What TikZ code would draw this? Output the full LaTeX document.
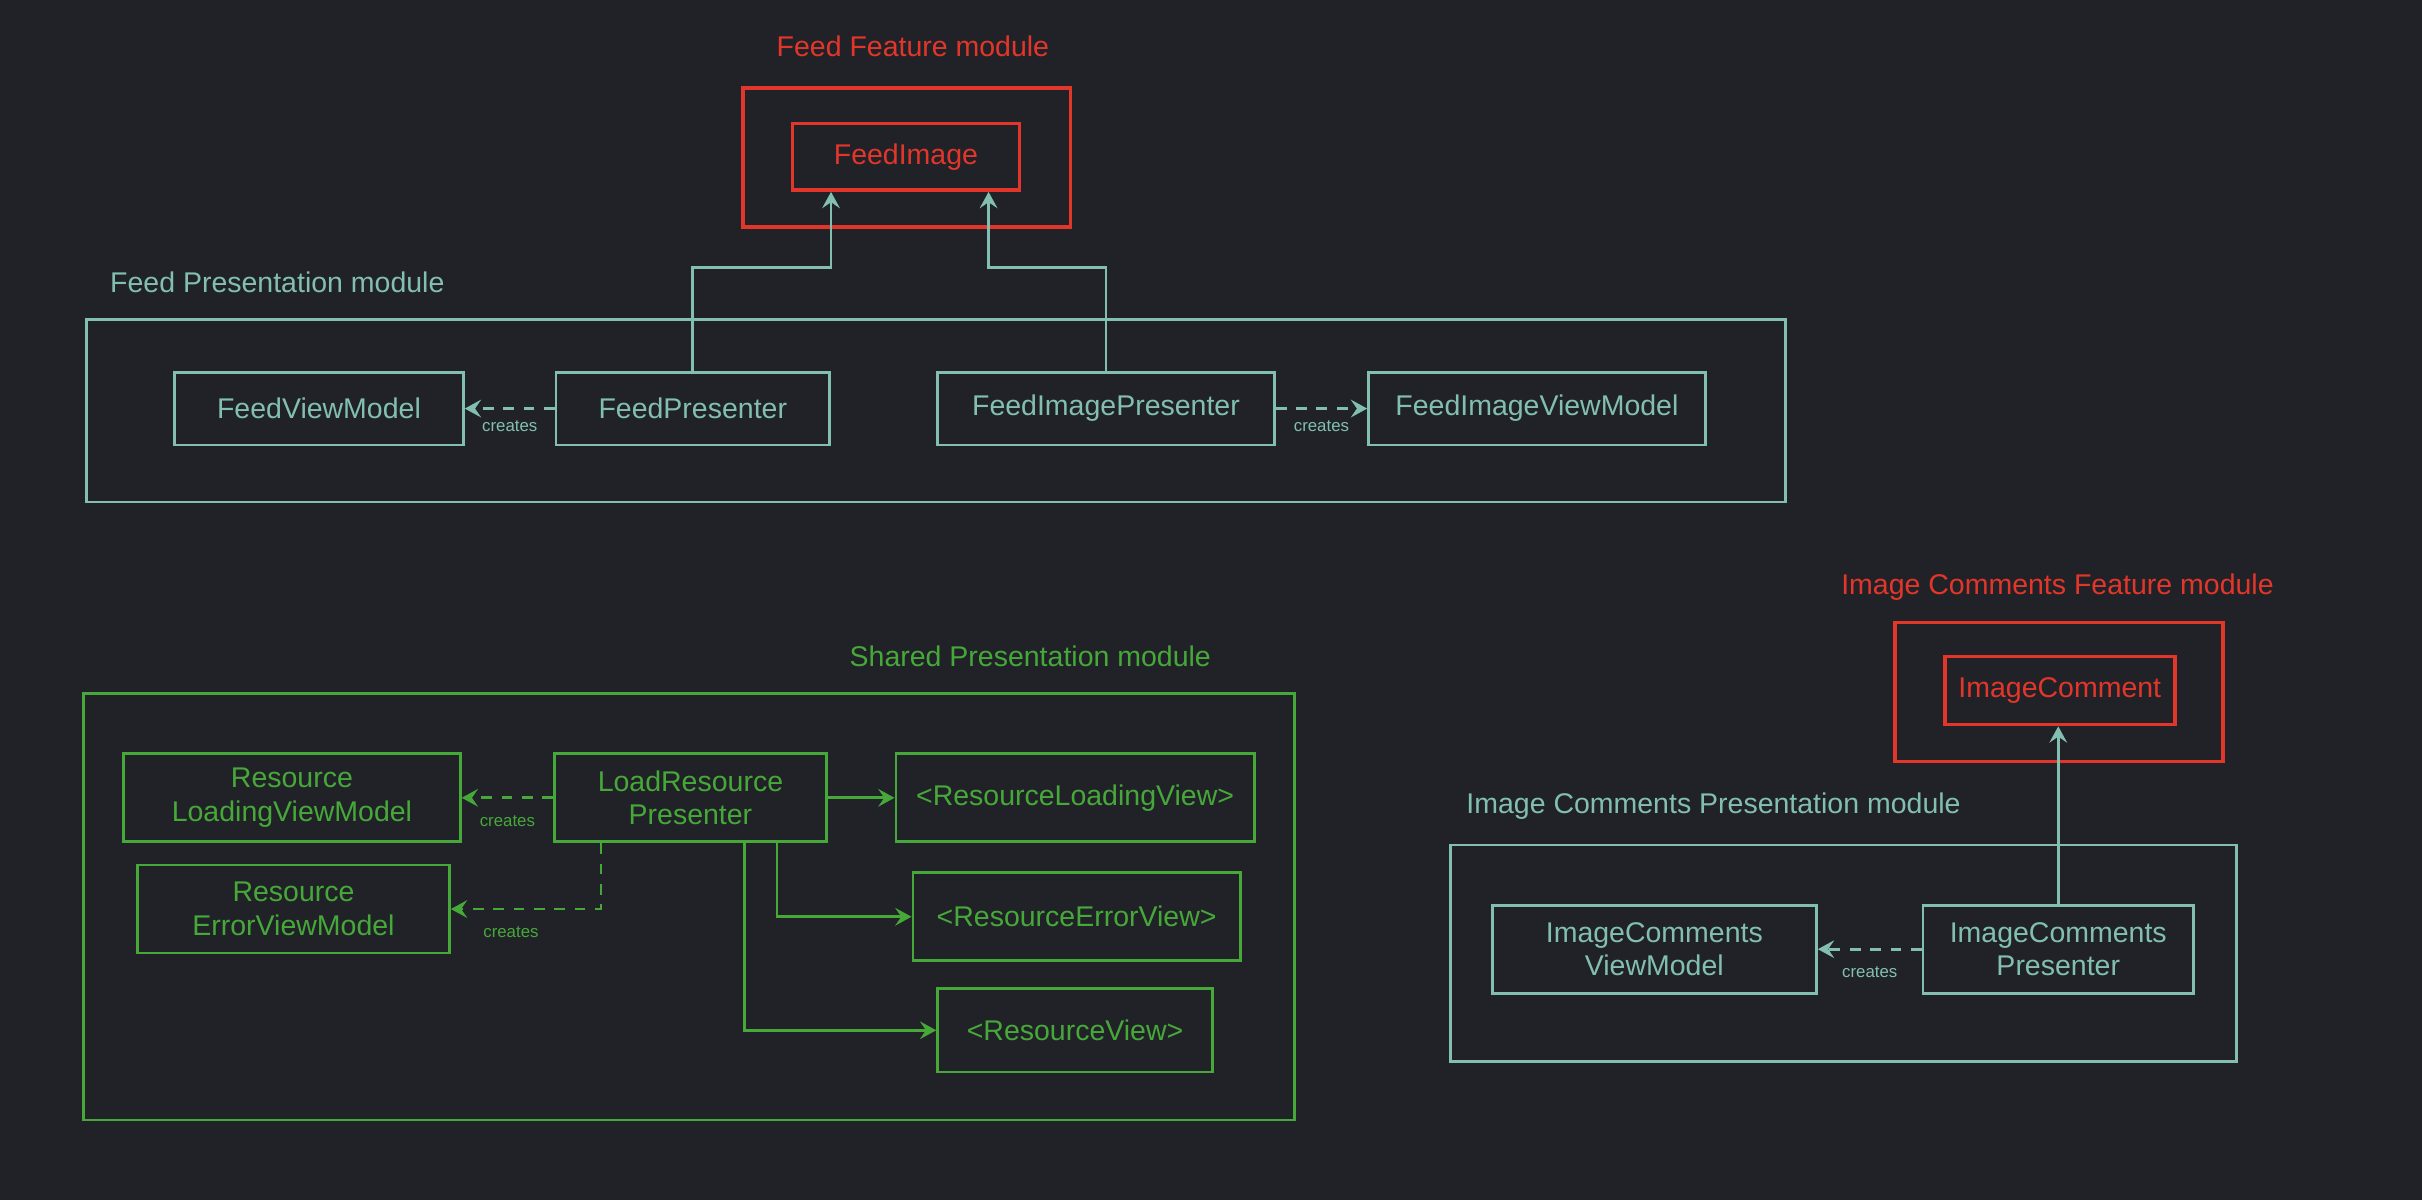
\documentclass[tikz,border=0pt]{standalone}
\usepackage{fontspec}
\setmainfont{Liberation Sans}
\usetikzlibrary{arrows.meta,calc}
\definecolor{bgc}{HTML}{202227}
\definecolor{tealc}{HTML}{82BFB0}
\definecolor{redc}{HTML}{E3362B}
\definecolor{greenc}{HTML}{47A83A}
\tikzset{
  rect/.style n args={4}{minimum width={(#3-#1)*0.02cm}, minimum height={(#4-#2)*0.02cm}, at={({(#1+#3)/2},{(#2+#4)/2})}},
  box/.style={draw, line width=1pt, inner sep=0pt, align=center, font=\fontsize{10.5}{12.5}\selectfont},
  tealbox/.style={box, draw=tealc, text=tealc},
  redbox/.style={box, draw=redc, text=redc},
  greenbox/.style={box, draw=greenc, text=greenc},
  modbox/.style={draw, line width=1pt, inner sep=0pt},
  title/.style={font=\fontsize{10.5}{12.5}\selectfont, inner sep=0pt},
  tip/.style={-{Stealth[length=6pt,width=6.5pt,inset=2.2pt]}},
  conn/.style={line width=1pt, tip},
  dconn/.style={conn, dash pattern=on 4pt off 3.5pt},
  creates/.style={font=\fontsize{6.2}{7}\selectfont, inner sep=1pt}
}
\begin{document}
\begin{tikzpicture}[x=0.02cm,y=-0.02cm]
\fill[bgc] (0,0) rectangle (1568,777);
\useasboundingbox (0,0) rectangle (1568,777);

% ---------- Feed Feature module ----------
\node[title, text=redc] (fftitle) at (591,30) {Feed Feature module};
\node[modbox, draw=redc, line width=1.4pt, rect={481}{57}{693}{147}] (ffmod) {};
\node[redbox, line width=1.4pt, rect={513}{80}{660}{123}] (fi) {FeedImage};

% ---------- Feed Presentation module ----------
\node[title, text=tealc, anchor=west] (fptitle) at (71,183) {Feed Presentation module};
\node[modbox, draw=tealc, rect={56}{207}{1156}{325}] (fpmod) {};
\node[tealbox, rect={113}{241}{300}{288}] (fvm) {FeedViewModel};
\node[tealbox, rect={360}{241}{537}{288}] (fp) {FeedPresenter};
\node[tealbox, rect={607}{241}{825}{288}] (fip) {FeedImagePresenter};
\node[tealbox, rect={886}{241}{1104}{288}] (fivm) {FeedImageViewModel};

\draw[conn, draw=tealc] (fp.north) -- ++(0,-67) -| ($(fi.south)+(-48.5,0)$);
\draw[conn, draw=tealc] (fip.north) -- ++(0,-67) -| ($(fi.south)+(53.5,0)$);
\draw[dconn, draw=tealc] (fp.west) -- (fvm.east) node[midway, below=3pt, creates, text=tealc] (c1) {creates};
\draw[dconn, draw=tealc] (fip.east) -- (fivm.west) node[midway, below=3pt, creates, text=tealc] (c2) {creates};

% ---------- Shared Presentation module ----------
\node[title, text=greenc] (sptitle) at (667,425) {Shared Presentation module};
\node[modbox, draw=greenc, rect={54}{449}{838}{725}] (spmod) {};
\node[greenbox, rect={80}{488}{298}{545}] (rlvm) {Resource\\LoadingViewModel};
\node[greenbox, rect={359}{488}{535}{545}] (lrp) {LoadResource\\Presenter};
\node[greenbox, rect={580}{488}{812}{545}] (rlv) {<ResourceLoadingView>};
\node[greenbox, rect={89}{560}{291}{617}] (revm) {Resource\\ErrorViewModel};
\node[greenbox, rect={591}{565}{803}{622}] (rev) {<ResourceErrorView>};
\node[greenbox, rect={607}{640}{785}{694}] (rv) {<ResourceView>};

\draw[dconn, draw=greenc] (lrp.west) -- (rlvm.east) node[midway, below=5pt, creates, text=greenc] (c3) {creates};
\draw[dconn, draw=greenc] ($(lrp.south west)+(31,0)$) |- (revm.east) node[pos=0.8, below=5pt, creates, text=greenc] (c4) {creates};
\draw[conn, draw=greenc] (lrp.east) -- (rlv.west);
\draw[conn, draw=greenc] ($(lrp.south)+(56,0)$) |- (rev.west);
\draw[conn, draw=greenc] ($(lrp.south)+(35,0)$) |- (rv.west);

% ---------- Image Comments Feature module ----------
\node[title, text=redc] (icftitle) at (1332,380) {Image Comments Feature module};
\node[modbox, draw=redc, line width=1.4pt, rect={1227}{403}{1439}{493}] (icfmod) {};
\node[redbox, line width=1.4pt, rect={1259}{425}{1408}{469}] (ic) {ImageComment};

% ---------- Image Comments Presentation module ----------
\node[title, text=tealc, anchor=west] (icptitle) at (949,522) {Image Comments Presentation module};
\node[modbox, draw=tealc, rect={939}{547}{1448}{687}] (icpmod) {};
\node[tealbox, rect={966}{586}{1176}{643}] (icvm) {ImageComments\\ViewModel};
\node[tealbox, rect={1245}{586}{1420}{643}] (icp) {ImageComments\\Presenter};

\draw[conn, draw=tealc] (icp.north) -- (icp.north |- ic.south);
\draw[dconn, draw=tealc] (icp.west) -- (icvm.east) node[midway, below=5pt, creates, text=tealc] (c5) {creates};
\end{tikzpicture}
\end{document}
